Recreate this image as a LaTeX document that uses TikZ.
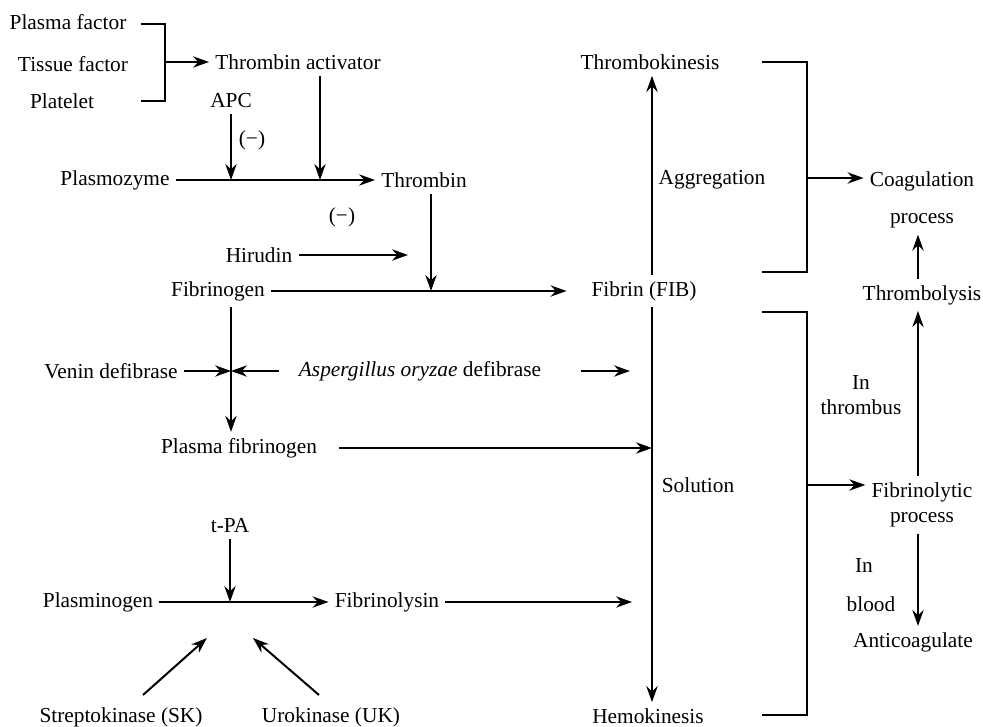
\documentclass[tikz,border=0pt]{standalone}
\usepackage{fontspec}
\setmainfont{Liberation Serif}
\usetikzlibrary{positioning,arrows.meta}

\begin{document}
\begin{tikzpicture}[x=0.75pt, y=-0.75pt, line width=1.5pt,
      every node/.style={font=\fontsize{16}{19}\selectfont, inner sep=4pt},
      arr/.style={-{Stealth[length=12pt,width=8.5pt,inset=4pt]}},
      twoline/.style={align=center}
  ]
    \useasboundingbox (0,0) rectangle (983,727);

    \node (pf)   at (68,22)   {Plasma factor};
    \node (tf)   at (73,64)   {Tissue factor};
    \node (plt)  at (62,101)  {Platelet};
    \node (ta)   at (298,62)  {Thrombin activator};
    \node (apc)  at (231,101) {APC};
    \node (neg1) at (252,140) {(−)};
    \node (pz)   at (115,180) {Plasmozyme};
    \node (th)   at (424,180) {Thrombin};
    \node (neg2) at (342,217) {(−)};
    \node (hir)  at (259,255) {Hirudin};
    \node (fg)   at (218,291) {Fibrinogen};
    \node (fib)  at (644,291) {Fibrin (FIB)};
    \node (vd)   at (111,371) {Venin defibrase};
    \node (ao)   at (420,371) {\textit{Aspergillus oryzae} defibrase};
    \node (pfg)  at (239,448) {Plasma fibrinogen};
    \node (tpa)  at (230,526) {t-PA};
    \node (pmg)  at (98,602)  {Plasminogen};
    \node (fl)   at (387,602) {Fibrinolysin};
    \node (sk)   at (121,717) {Streptokinase (SK)};
    \node (uk)   at (331,717) {Urokinase (UK)};
    \node (tk)   at (650,62)  {Thrombokinesis};
    \node (agg)  at (712,180) {Aggregation};
    \node (sol)  at (698,485) {Solution};
    \node (hk)   at (648,716) {Hemokinesis};
    \node[twoline] (cp) at (922,200) {Coagulation\\[9pt]process};
    \node (tl)   at (922,295) {Thrombolysis};
    \node[twoline] (fp) at (922,505) {Fibrinolytic\\process};
    \node[twoline] (inth) at (861,395) {In\\thrombus};
    \node (inb1) at (864,566) {In};
    \node (inb2) at (871,604) {blood};
    \node (ac)   at (913,642) {Anticoagulate};

    \coordinate (brk) at (165,62);
    \coordinate (j_ta) at (320,180);
    \coordinate (j_th) at (431,291);
    \coordinate (hirEnd) at (408,255);
    \coordinate (j_def) at (231,371);
    \coordinate (aoEnd) at (630,371);
    \coordinate (axis) at (652,291);
    \coordinate (flEnd) at (632,602);
    \coordinate (skEnd) at (207,638);
    \coordinate (ukEnd) at (253,638);
    \coordinate (rx) at (918,0);
    \coordinate (cbTop) at (762,62);
    \coordinate (cbMid) at (807,178);
    \coordinate (cbBot) at (762,272);
    \coordinate (fbTop) at (762,312);
    \coordinate (fbMid) at (807,485);
    \coordinate (fbBot) at (762,715);

    \draw (pf.east) ++(8,2) coordinate (b1) -| (brk) |- (plt.east -| b1);
    \draw[arr] (brk) -- (ta.west);
    \draw[arr] (pz) -- (th);
    \draw[arr] (apc) -- (apc |- pz);
    \draw[arr] (ta.south -| j_ta) -- (j_ta);
    \draw[arr] (th.south -| j_th) -- (j_th);
    \draw[arr] (hir) -- (hirEnd);
    \draw[arr, shorten >=14pt] (fg) -- (fib);
    \draw[arr] (fg.south -| j_def) -- (pfg.north -| j_def);
    \draw[arr] (vd) -- (j_def);
    \draw[arr, shorten <=10pt] (ao) -- (j_def);
    \draw[arr, shorten <=25pt] (ao) -- (aoEnd);
    \draw[arr, shorten <=12pt] (pfg) -- (pfg -| axis);
    \draw[arr] (tpa) -- (tpa |- pmg);
    \draw[arr] (pmg) -- (fl);
    \draw[arr] (fl) -- (flEnd);
    \draw[arr] (sk.north) ++(22,-6) -- (skEnd);
    \draw[arr] (uk.north) ++(-12,-6) -- (ukEnd);
    \draw[arr] (fib.north -| axis) -- (tk.south -| axis);
    \draw[arr] (fib.south -| axis) -- (hk.north -| axis);
    \draw (cbTop) -| (cbMid) |- (cbBot);
    \draw[arr] (cbMid) -- (cp.west |- cbMid);
    \draw (fbTop) -| (fbMid) |- (fbBot);
    \draw[arr] (fbMid) -- (fp.west |- fbMid);
    \draw[arr] (tl.north -| rx) -- (cp.south -| rx);
    \draw[arr] (fp.north -| rx) -- (tl.south -| rx);
    \draw[arr] (fp.south -| rx) -- (ac.north -| rx);
  \end{tikzpicture}
\end{document}
